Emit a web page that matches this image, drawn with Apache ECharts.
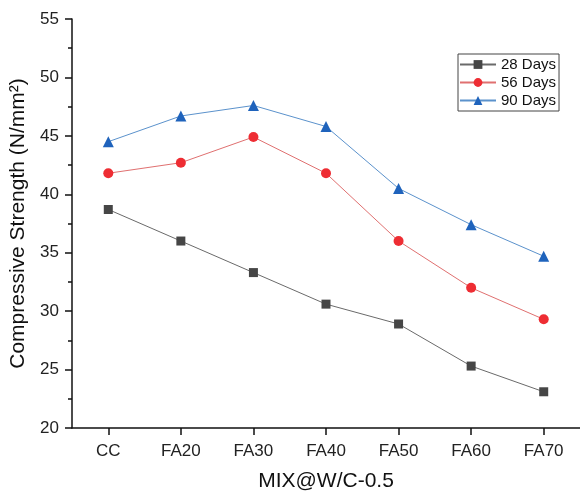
<!DOCTYPE html>
<html>
<head>
<meta charset="utf-8">
<script src="https://cdn.jsdelivr.net/npm/echarts@6/dist/echarts.min.js"></script>
<style>
  html, body { margin: 0; padding: 0; background: #fff; }
  #chart { width: 580px; height: 497px; }
</style>
</head>
<body>
<div id="chart"></div>
<script>
// Mix designs along the x axis
const mixes = ['CC', 'FA20', 'FA30', 'FA40', 'FA50', 'FA60', 'FA70'];

// Compressive strength (N/mm²) by curing age
const days28 = [38.7, 36.0, 33.3, 30.6, 28.9, 25.3, 23.1];
const days56 = [41.8, 42.7, 44.9, 41.8, 36.0, 32.0, 29.3];
const days90 = [44.5, 46.7, 47.6, 45.8, 40.5, 37.4, 34.7];

const seriesNames = ['28 Days', '56 Days', '90 Days'];

const chart = echarts.init(document.getElementById('chart'));

const FONT = 'Liberation Sans, Arial, sans-serif';

function lineSeries(name, data, symbol, size, markerColor, lineColor) {
  return {
    name: name,
    type: 'line',
    data: data,
    symbol: symbol,
    symbolSize: size,
    itemStyle: { color: markerColor },
    lineStyle: { color: lineColor, width: 1 },
    emphasis: { disabled: true },
    z: 3
  };
}

chart.setOption({
  animation: false,
  backgroundColor: '#ffffff',
  textStyle: { fontFamily: FONT },
  grid: { left: 72, top: 19, width: 513, bottom: 65, containLabel: false },
  legend: {
    orient: 'vertical',
    left: 458,
    top: 54,
    data: seriesNames,
    itemWidth: 36,
    itemHeight: 11,
    itemGap: 3,
    padding: [3, 3, 3, 1],
    borderColor: '#444444',
    borderWidth: 1,
    backgroundColor: '#ffffff',
    textStyle: { fontFamily: FONT, fontSize: 15, color: '#111111' }
  },
  xAxis: {
    type: 'category',
    data: mixes,
    boundaryGap: true,
    name: 'MIX@W/C-0.5',
    nameLocation: 'middle',
    nameGap: 43,
    nameTextStyle: { fontFamily: FONT, fontSize: 21, color: '#111111' },
    axisLine: { show: true, onZero: false, lineStyle: { color: '#111111', width: 1.5 } },
    axisTick: { show: true, alignWithLabel: true, length: 7, lineStyle: { color: '#111111', width: 1.5 } },
    axisLabel: { fontFamily: FONT, fontSize: 17, color: '#222222', margin: 15 },
    splitLine: { show: false }
  },
  yAxis: {
    type: 'value',
    min: 20,
    max: 55,
    interval: 5,
    name: 'Compressive Strength (N/mm²)',
    nameLocation: 'middle',
    nameGap: 38,
    nameRotate: 90,
    nameTextStyle: { fontFamily: FONT, fontSize: 21, color: '#111111' },
    axisLine: { show: true, lineStyle: { color: '#111111', width: 1.5 } },
    axisTick: { show: true, length: 7, lineStyle: { color: '#111111', width: 1.5 } },
    minorTick: { show: true, splitNumber: 2, length: 4, lineStyle: { color: '#111111', width: 1.5 } },
    axisLabel: { fontFamily: FONT, fontSize: 17, color: '#222222', margin: 13 },
    splitLine: { show: false }
  },
  series: [
    lineSeries(seriesNames[0], days28, 'rect', 9, '#464646', '#6a6a6a'),
    lineSeries(seriesNames[1], days56, 'circle', 10, '#ee2d33', '#e07070'),
    lineSeries(seriesNames[2], days90, 'triangle', 11, '#1f63bc', '#5b92cc')
  ]
});
</script>
</body>
</html>
